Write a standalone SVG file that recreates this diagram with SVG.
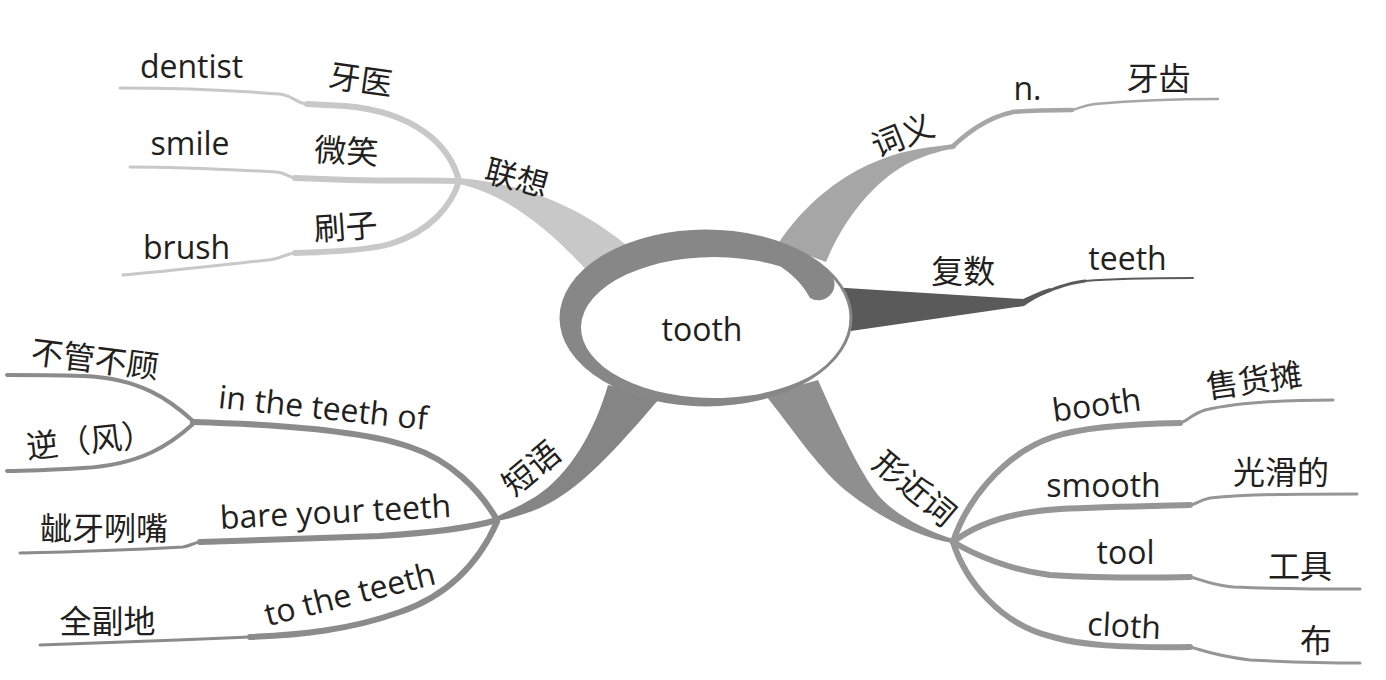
<svg xmlns="http://www.w3.org/2000/svg" width="1386" height="680" viewBox="0 0 1386 680">
<style>
.t{font-family:"Open Sans","Noto Sans CJK SC",sans-serif;font-size:32px;fill:#231f20;text-anchor:middle}
.c{font-family:"Noto Sans CJK SC","Noto Sans",sans-serif;font-size:32px;fill:#231f20;text-anchor:middle}
.ln{fill:none;stroke-linecap:round;stroke-linejoin:round}
.w6{stroke-width:6}
.w3{stroke-width:3}
.g1{stroke:#c8c8c8}
.g2{stroke:#a6a6a6}
.g3{stroke:#5a5a5a}
.g4{stroke:#8b8b8b}
.g5{stroke:#969696}
</style>
<rect width="1386" height="680" fill="#ffffff"/>
<g id="connectors">
  <!-- 联想 -->
  <path d="M459,178 C520,183 580,205 632,250 L592,276 C555,235 510,195 459,184 Z" fill="#c8c8c8"/>
  <path class="ln g1 w6" d="M459,181 C450,145 415,112 345,106 L307,104"/>
  <path class="ln g1 w3" d="M307,104 C296,103 292,95 279,94 C230,90 170,88 120,88"/>
  <path class="ln g1 w6" d="M459,181 C430,180 400,181 350,180 L295,178"/>
  <path class="ln g1 w3" d="M295,178 C288,177 284,172 276,172 C220,169 170,167 130,167"/>
  <path class="ln g1 w6" d="M459,181 C452,205 430,232 390,244 C370,250 330,252 295,253"/>
  <path class="ln g1 w3" d="M295,253 C285,254 280,259 268,260 C220,265 170,271 123,275"/>
  <!-- 词义 -->
  <path d="M778,244 C800,210 840,170 900,153 C925,147 940,146 954,144 L956,148 C940,151 930,154 915,160 C880,175 845,215 826,262 Z" fill="#a6a6a6"/>
  <path class="ln g2" stroke-width="4.5" d="M952,147 C965,135 985,118 1013,112 C1035,110 1060,110 1072,110"/>
  <path class="ln g2" stroke-width="2.5" d="M1072,110 C1080,108 1085,105 1095,104 C1140,100 1180,99 1218,99"/>
  <!-- 复数 -->
  <path d="M830,287 L1023,299 C1030,296 1040,291 1050,288 L1052,291 C1042,295 1032,300 1024,306 L830,334 Z" fill="#5a5a5a"/>
  <path class="ln g3" stroke-width="3" d="M1022,302 C1040,295 1060,284 1085,281"/>
  <path class="ln g3" stroke-width="2" d="M1085,281 C1120,278 1160,278 1193,278"/>
  <!-- 短语 -->
  <path d="M608,385 C595,430 570,475 535,497 C520,506 508,511 496,517 L497,521 C510,519 525,514 540,508 C580,490 615,450 660,398 Z" fill="#858585"/>
  <path class="ln g4 w6" d="M497,520 C480,490 450,460 410,447 C370,433 300,425 193,422"/>
  <path class="ln g4" stroke-width="4" d="M193,421 C170,400 140,378 83,376 C50,375 25,375 7,375"/>
  <path class="ln g4" stroke-width="4" d="M193,424 C170,445 140,465 83,468 C50,470 25,471 7,471"/>
  <path class="ln g4 w6" d="M497,520 C470,528 430,533 380,536 L200,542"/>
  <path class="ln g4 w3" d="M200,542 C193,543 190,546 183,547 C130,550 70,552 20,553"/>
  <path class="ln g4 w6" d="M497,522 C480,560 450,595 400,612 C350,630 300,635 250,637"/>
  <path class="ln g4 w3" d="M250,637 C180,640 100,643 40,645"/>
  <!-- 形近词 -->
  <path d="M765,395 C785,418 815,465 845,490 C880,518 920,538 953,543 L953,539 C925,530 895,515 878,495 C860,472 840,430 818,380 Z" fill="#8f8f8f"/>
  <path class="ln g5 w6" d="M953,542 C965,505 1000,455 1053,437 C1080,428 1120,424 1180,423"/>
  <path class="ln g5 w3" d="M1180,423 C1186,422 1192,414 1205,410 C1240,402 1290,400 1333,400"/>
  <path class="ln g5 w6" d="M953,542 C975,525 1010,512 1060,509 C1100,507 1150,506 1190,505"/>
  <path class="ln g5 w3" d="M1190,505 C1196,504 1200,500 1210,498 C1250,494 1300,494 1357,494"/>
  <path class="ln g5 w6" d="M953,542 C975,555 1010,570 1050,575 C1100,578 1150,578 1190,577"/>
  <path class="ln g5 w3" d="M1190,577 C1200,579 1210,585 1233,587 C1280,589 1320,589 1360,589"/>
  <path class="ln g5 w6" d="M953,542 C965,580 1000,625 1053,637 C1080,645 1120,648 1190,647"/>
  <path class="ln g5 w3" d="M1190,647 C1200,649 1210,655 1250,660 C1290,662 1330,663 1360,663"/>
</g>
<g id="center">
  <ellipse cx="706" cy="318" rx="145" ry="87" fill="#ffffff" stroke="#878787" stroke-width="3"/>
  <path d="M830.3,273.2 A145,87 0 1 0 846.1,340.5 L842.5,345.8 A133,70.5 0 1 1 780.5,266.5 C795,276 805,288 810,298 A16.2,16.2 0 0 0 830.3,273.2 Z" fill="#878787"/>
  <text class="t" x="702" y="340.5">tooth</text>
</g>
<g id="n-lianxiang">
  <text class="c" transform="rotate(15 516.8 177.5)" x="516.8" y="189.5">联想</text>
</g>
<g id="n-dentist"><text class="t" x="191.6" y="77.5">dentist</text></g>
<g id="n-yayi"><text class="c" transform="rotate(8 360.7 79.3)" x="360.7" y="91.3">牙医</text></g>
<g id="n-smile"><text class="t" x="190" y="155">smile</text></g>
<g id="n-weixiao"><text class="c" transform="rotate(3 346.4 150.7)" x="346.4" y="162.7">微笑</text></g>
<g id="n-brush"><text class="t" x="186.6" y="258.6">brush</text></g>
<g id="n-shuazi"><text class="c" transform="rotate(-4 345.5 226.6)" x="345.5" y="238.6">刷子</text></g>
<g id="n-ciyi"><text class="c" transform="rotate(-22 902.5 135)" x="902.5" y="147">词义</text></g>
<g id="n-n"><text class="t" x="1027.5" y="100">n.</text></g>
<g id="n-yachi"><text class="c" x="1158.5" y="89.5">牙齿</text></g>
<g id="n-fushu"><text class="c" x="963.3" y="282.8">复数</text></g>
<g id="n-teeth"><text class="t" x="1127.5" y="270">teeth</text></g>
<g id="n-duanyu"><text class="c" transform="translate(531 468) rotate(-40)" x="0" y="12">短语</text></g>
<g id="n-inteeth"><text class="t" transform="rotate(6 322 419)" x="322" y="419">in the teeth of</text></g>
<g id="n-buguan"><text class="c" transform="rotate(7 95 359)" x="95" y="371">不管不顾</text></g>
<g id="n-nifeng"><text class="c" transform="rotate(-6 80 441)" x="90" y="453">逆（风）</text></g>
<g id="n-bare"><text class="t" transform="rotate(-3 336 523)" x="336" y="523">bare your teeth</text></g>
<g id="n-ziya"><text class="c" x="104" y="539.5">龇牙咧嘴</text></g>
<g id="n-totheteeth"><text class="t" transform="rotate(-14 352.5 605)" x="352.5" y="605">to the teeth</text></g>
<g id="n-quanfu"><text class="c" x="107.5" y="633">全副地</text></g>
<g id="n-xingjinci"><text class="c" transform="translate(915 488) rotate(40)" x="0" y="12">形近词</text></g>
<g id="n-booth"><text class="t" transform="rotate(-7.4 1098 416)" x="1098" y="416">booth</text></g>
<g id="n-shouhuotan"><text class="c" transform="rotate(-8 1254 380)" x="1254" y="392">售货摊</text></g>
<g id="n-smooth"><text class="t" x="1103.5" y="497">smooth</text></g>
<g id="n-guanghua"><text class="c" x="1281" y="484">光滑的</text></g>
<g id="n-tool"><text class="t" x="1125.5" y="564">tool</text></g>
<g id="n-gongju"><text class="c" x="1300" y="578">工具</text></g>
<g id="n-cloth"><text class="t" transform="rotate(3 1124 630)" x="1124" y="637">cloth</text></g>
<g id="n-bu"><text class="c" x="1316" y="652">布</text></g>
</svg>
